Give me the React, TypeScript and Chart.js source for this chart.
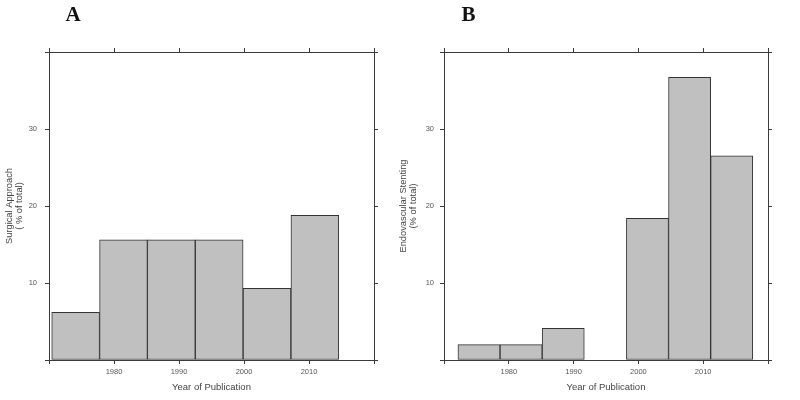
import React, { useEffect, useRef } from "react";
import { Chart, registerables } from "chart.js";

Chart.register(...registerables);

// ---- data ----
const labeledYears = [1980, 1990, 2000, 2010];
const labeledPcts = [10, 20, 30];

const binCentersA = [1974.1, 1981.46, 1988.82, 1996.18, 2003.54, 2010.9];
const surgicalPct = [6.2, 15.6, 15.6, 15.6, 9.3, 18.8];

const binCentersB = [1975.4, 1981.9, 1988.4, 1994.9, 2001.4, 2007.9, 2014.4];
const stentingPct = [2.0, 2.0, 4.1, 0, 18.4, 36.7, 26.5];

const titleA = ["Surgical Approach", "( % of total)"];
const titleB = ["Endovascular Stenting", "(% of total)"];
const xTitle = "Year of Publication";

const FAMILY = "'Liberation Sans', Arial, sans-serif";
const AXIS = "#3a3a3a";

type Geo = {
  width: number;
  leftW: number;
  rightW: number;
  topH: number;
  bottomH: number;
  titlePadTop: number;
  yTickPad: number;
};

function makeConfig(centers: number[], values: number[], yTitle: string[], g: Geo): any {
  const grid = {
    display: true,
    drawOnChartArea: false,
    drawTicks: true,
    tickLength: 4,
    color: AXIS,
    tickColor: AXIS,
    offset: false,
  };
  const border = { display: true, color: AXIS, width: 1 };
  return {
    type: "bar",
    data: {
      datasets: [
        {
          data: centers.map((x, i) => ({ x, y: values[i] })),
          backgroundColor: "#c0c0c0",
          borderColor: "#333333",
          borderWidth: 1,
          borderSkipped: false,
          barPercentage: 1,
          categoryPercentage: 1,
          xAxisID: "x",
          yAxisID: "y",
        },
      ],
    },
    options: {
      responsive: false,
      animation: false,
      devicePixelRatio: 1,
      layout: { padding: 0 },
      plugins: { legend: { display: false }, tooltip: { enabled: false } },
      scales: {
        x: {
          type: "linear",
          position: "bottom",
          min: 1970,
          max: 2020,
          offset: false,
          ticks: {
            stepSize: 10,
            autoSkip: false,
            maxRotation: 0,
            padding: 3.5,
            color: "#555",
            font: { size: 7.5, family: FAMILY },
            callback: (v: any) => (labeledYears.includes(Number(v)) ? String(v) : ""),
          },
          grid,
          border,
          title: {
            display: true,
            text: xTitle,
            color: "#444",
            font: { size: 9.5, family: FAMILY, lineHeight: 1.2 },
            padding: { top: 0, bottom: 7 },
          },
          afterFit: (s: any) => {
            s.height = g.bottomH;
          },
        },
        x2: {
          type: "linear",
          position: "top",
          min: 1970,
          max: 2020,
          offset: false,
          ticks: { stepSize: 10, autoSkip: false, maxRotation: 0, callback: () => "" },
          grid,
          border,
          afterFit: (s: any) => {
            s.height = g.topH;
          },
        },
        y: {
          type: "linear",
          position: "left",
          min: 0,
          max: 40,
          ticks: {
            stepSize: 10,
            padding: g.yTickPad,
            color: "#555",
            font: { size: 7.5, family: FAMILY },
            callback: (v: any) => (labeledPcts.includes(Number(v)) ? String(v) : ""),
          },
          grid,
          border,
          title: {
            display: true,
            text: yTitle,
            color: "#444",
            font: { size: 9.3, family: FAMILY, lineHeight: 1.08 },
            padding: { top: g.titlePadTop, bottom: 0 },
          },
          afterFit: (s: any) => {
            s.width = g.leftW;
          },
        },
        y2: {
          type: "linear",
          position: "right",
          min: 0,
          max: 40,
          ticks: { stepSize: 10, callback: () => "" },
          grid,
          border,
          afterFit: (s: any) => {
            s.width = g.rightW;
          },
        },
      },
    },
  };
}

const geoA: Geo = { width: 398, leftW: 49, rightW: 24, topH: 52, bottomH: 40, titlePadTop: 4, yTickPad: 8 };
const geoB: Geo = { width: 402, leftW: 46, rightW: 32, topH: 52, bottomH: 40, titlePadTop: 0.3, yTickPad: 6 };

function Panel(props: { centers: number[]; values: number[]; yTitle: string[]; geo: Geo; left: number }) {
  const ref = useRef<HTMLCanvasElement | null>(null);
  useEffect(() => {
    if (!ref.current) return;
    const chart = new Chart(ref.current, makeConfig(props.centers, props.values, props.yTitle, props.geo));
    return () => chart.destroy();
  }, []);
  return (
    <canvas
      ref={ref}
      width={props.geo.width}
      height={400}
      style={{ position: "absolute", left: props.left, top: 0, width: props.geo.width, height: 400 }}
    />
  );
}

const letterStyle: React.CSSProperties = {
  position: "absolute",
  top: 3.6,
  fontFamily: "'Liberation Serif', 'Times New Roman', serif",
  fontWeight: "bold",
  fontSize: 21,
  lineHeight: 1,
  color: "#111",
};

export default function App() {
  return (
    <div style={{ position: "fixed", left: 0, top: 0, width: 800, height: 400, background: "#fff", overflow: "hidden" }}>
      <Panel centers={binCentersA} values={surgicalPct} yTitle={titleA} geo={geoA} left={0} />
      <Panel centers={binCentersB} values={stentingPct} yTitle={titleB} geo={geoB} left={398} />
      <div style={{ ...letterStyle, left: 65.5 }}>A</div>
      <div style={{ ...letterStyle, left: 461.5 }}>B</div>
    </div>
  );
}
